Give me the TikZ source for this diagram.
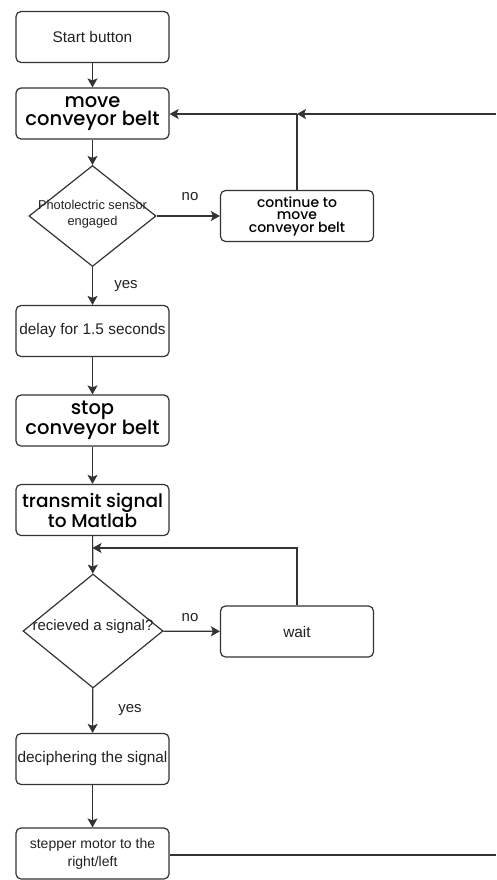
\documentclass[tikz,border=0pt]{standalone}
\usepackage{fontspec}
\setmainfont{Liberation Sans}
\newfontfamily\popfont{Poppins Medium}
\usetikzlibrary{shapes.geometric,arrows.meta}
\definecolor{linec}{HTML}{333333}
\definecolor{txtc}{HTML}{222222}
\begin{document}
\begin{tikzpicture}[x=1pt,y=-1pt,
  box/.style={draw=linec, line width=1.2pt, rounded corners=5pt, minimum width=153pt, minimum height=51pt, inner sep=0pt, align=center, text=txtc},
  dia/.style={diamond, draw=linec, line width=1.2pt, inner sep=0pt},
  reg/.style={font=\fontsize{15.4}{17}\selectfont},
  big/.style={font=\popfont\fontsize{19.5}{18.5}\selectfont, text=black},
  mid/.style={font=\popfont\fontsize{14}{12.5}\selectfont, text=black},
  lab/.style={font=\fontsize{15}{16}\selectfont, text=txtc, inner sep=0pt},
  conn/.style={draw=linec, line width=1.2pt},
  arr/.style={conn, -{Stealth[length=9pt,width=10pt,inset=2pt]}}
]
\useasboundingbox (0,0) rectangle (496,880);
\fill[white] (0,0) rectangle (496,880);

\node[box, reg] (start) at (92.5,37) {Start button};
\node[box, big] (move) at (92.5,113.5) {move\\conveyor belt};
\node[dia, minimum width=127pt, minimum height=101pt] (d1) at (92.5,216) {};
\node[font=\fontsize{12.8}{16.5}\selectfont, text=txtc, align=center, inner sep=0pt] (d1t) at (92.5,214) {Photolectric sensor\\engaged};
\node[box, mid] (cont) at (297,216) {continue to\\move\\conveyor belt};
\node[box, reg] (delay) at (92.5,331) {delay for 1.5 seconds};
\node[box, big] (stop) at (92.5,420.5) {stop\\conveyor belt};
\node[box, big, font=\popfont\fontsize{18.5}{20}\selectfont] (trans) at (92.5,510) {transmit signal\\to Matlab};
\node[dia, minimum width=140pt, minimum height=114pt] (d2) at (93,631) {};
\node[font=\fontsize{15}{17}\selectfont, text=txtc, inner sep=0pt] (d2t) at (93,627) {recieved a signal?};
\node[box, reg] (wait) at (297,631.5) {wait};
\node[box, reg] (deci) at (92.5,759) {deciphering the signal};
\node[box, reg, font=\fontsize{14}{18}\selectfont] (step) at (92.5,853.5) {stepper motor to the\\right/left};

\node[lab] (no1) at (190,197) {no};
\node[lab] (yes1) at (126,286) {yes};
\node[lab] (no2) at (190,618) {no};
\node[lab] (yes2) at (130,710) {yes};

\coordinate (r1) at (496,114);
\coordinate (j1) at (297,114);
\coordinate (j2) at (297,548);
\coordinate (j2l) at (92.5,548);
\coordinate (r2) at (496,855);

\draw[arr] (start) -- (move);
\draw[arr] (move) -- (d1);
\draw[arr] (d1) -- (cont);
\draw[arr] (d1) -- (delay);
\draw[conn] (cont.north) -- (j1);
\draw[arr] (r1) -- (j1);
\draw[arr] (j1) -- (move.east |- j1);
\draw[arr] (delay) -- (stop);
\draw[arr] (stop) -- (trans);
\draw[arr] (trans) -- (d2);
\draw[arr] (wait.north) -- (j2) -- (j2l);
\draw[arr] (d2) -- (wait);
\draw[arr] (d2) -- (deci);
\draw[arr] (deci) -- (step);
\draw[conn] (step.east |- r2) -- (r2);
\end{tikzpicture}
\end{document}
